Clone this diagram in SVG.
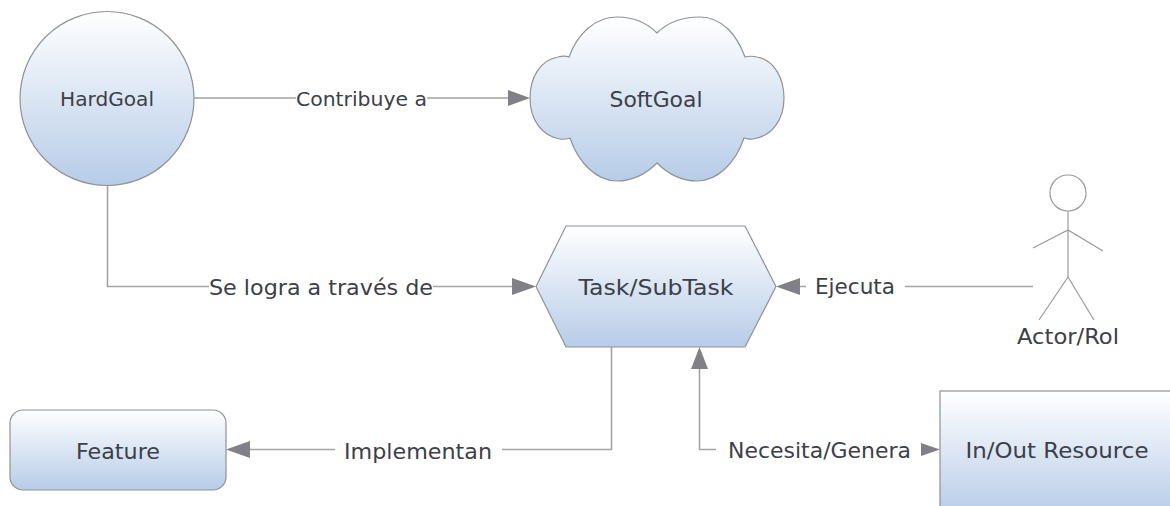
<svg xmlns="http://www.w3.org/2000/svg" width="1170" height="506" viewBox="0 0 1170 506">
<style>
text{font-family:"DejaVu Sans",Verdana,sans-serif;fill:#3c4048;text-anchor:middle;font-size:22px}
.s{font-size:20px}
.shape{fill:url(#g);stroke:#8f9296;stroke-width:1.2}
.line{fill:none;stroke:#a3a3a6;stroke-width:1.6}
.arrow{fill:#808086;stroke:none}
.actor{fill:none;stroke:#9a9a9c;stroke-width:1.2}
</style>
<defs>
<linearGradient id="g" x1="0" y1="0" x2="0" y2="1">
<stop offset="0" stop-color="#ffffff"/>
<stop offset="1" stop-color="#b7cce8"/>
</linearGradient>
</defs>
<rect width="1170" height="506" fill="#ffffff"/>
<g id="connectors">
<path class="line" d="M194 98H296M427 98H510"/>
<polygon class="arrow" points="508,90 530,98 508,106"/>
<path class="line" d="M107.500 185V286.500H209M433 286.500H514"/>
<polygon class="arrow" points="512,278 536,286.500 512,295"/>
<path class="line" d="M799 286.500H806M905 286.500H1033"/>
<polygon class="arrow" points="776,286.500 800,278 800,295"/>
<path class="line" d="M611.500 347V449.500H502M335 449.500H248"/>
<polygon class="arrow" points="226,449.500 250,441 250,458"/>
<path class="line" d="M699.500 367V449.500H716"/>
<polygon class="arrow" points="699.500,347 691,369 708,369"/>
<polygon class="arrow" points="921,443 940,449.500 921,456"/>
</g>
<g id="hardgoal">
<ellipse class="shape" cx="107" cy="98.500" rx="87" ry="87"/>
<text class="s" x="107" y="106" textLength="94" lengthAdjust="spacingAndGlyphs">HardGoal</text>
</g>
<g id="softgoal">
<path class="shape" d="M657 33C668 22 684 17 700 17C722 17 737 35 745 57C749 56 753 56 757 57C774 60 784 78 784 98C784 120 772 136 753 139C750 139.500 747 139 744 138C736 162 718 181 697 181C682 181 668 174 657 163C646 174 632 181 617 181C596 181 578 162 570 138C567 139 563 139.500 560 139C542 136 530 120 530 98C530 78 540 60 558 57C562 56 566 56 569 57C577 35 594 17 617 17C632 17 646 22 657 33Z"/>
<text x="656" y="107" textLength="93" lengthAdjust="spacingAndGlyphs">SoftGoal</text>
</g>
<g id="task">
<polygon class="shape" points="566,226 745,226 776,286.500 745,347 566,347 536,286.500"/>
<text x="656" y="295" textLength="155" lengthAdjust="spacingAndGlyphs">Task/SubTask</text>
</g>
<g id="actor">
<ellipse class="actor" cx="1068" cy="193" rx="18" ry="18"/>
<path class="actor" d="M1068 211V277M1033 248L1068 230L1103 251M1039 320L1068 277L1094 320"/>
<text x="1068" y="344" textLength="102" lengthAdjust="spacingAndGlyphs">Actor/Rol</text>
</g>
<g id="feature">
<rect class="shape" x="10" y="410" width="216" height="80" rx="13" ry="13"/>
<text x="118" y="459" textLength="84" lengthAdjust="spacingAndGlyphs">Feature</text>
</g>
<g id="resource">
<rect class="shape" x="940" y="391" width="240" height="125"/>
<text x="1057" y="458" textLength="183" lengthAdjust="spacingAndGlyphs">In/Out Resource</text>
</g>
<g id="labels">
<text class="s" x="361.500" y="106" textLength="131" lengthAdjust="spacingAndGlyphs">Contribuye a</text>
<text x="321" y="295" textLength="224" lengthAdjust="spacingAndGlyphs">Se logra a través de</text>
<text x="855" y="294" textLength="80" lengthAdjust="spacingAndGlyphs">Ejecuta</text>
<text x="418" y="459" textLength="148" lengthAdjust="spacingAndGlyphs">Implementan</text>
<text x="819.500" y="458" textLength="183" lengthAdjust="spacingAndGlyphs">Necesita/Genera</text>
</g>
</svg>
